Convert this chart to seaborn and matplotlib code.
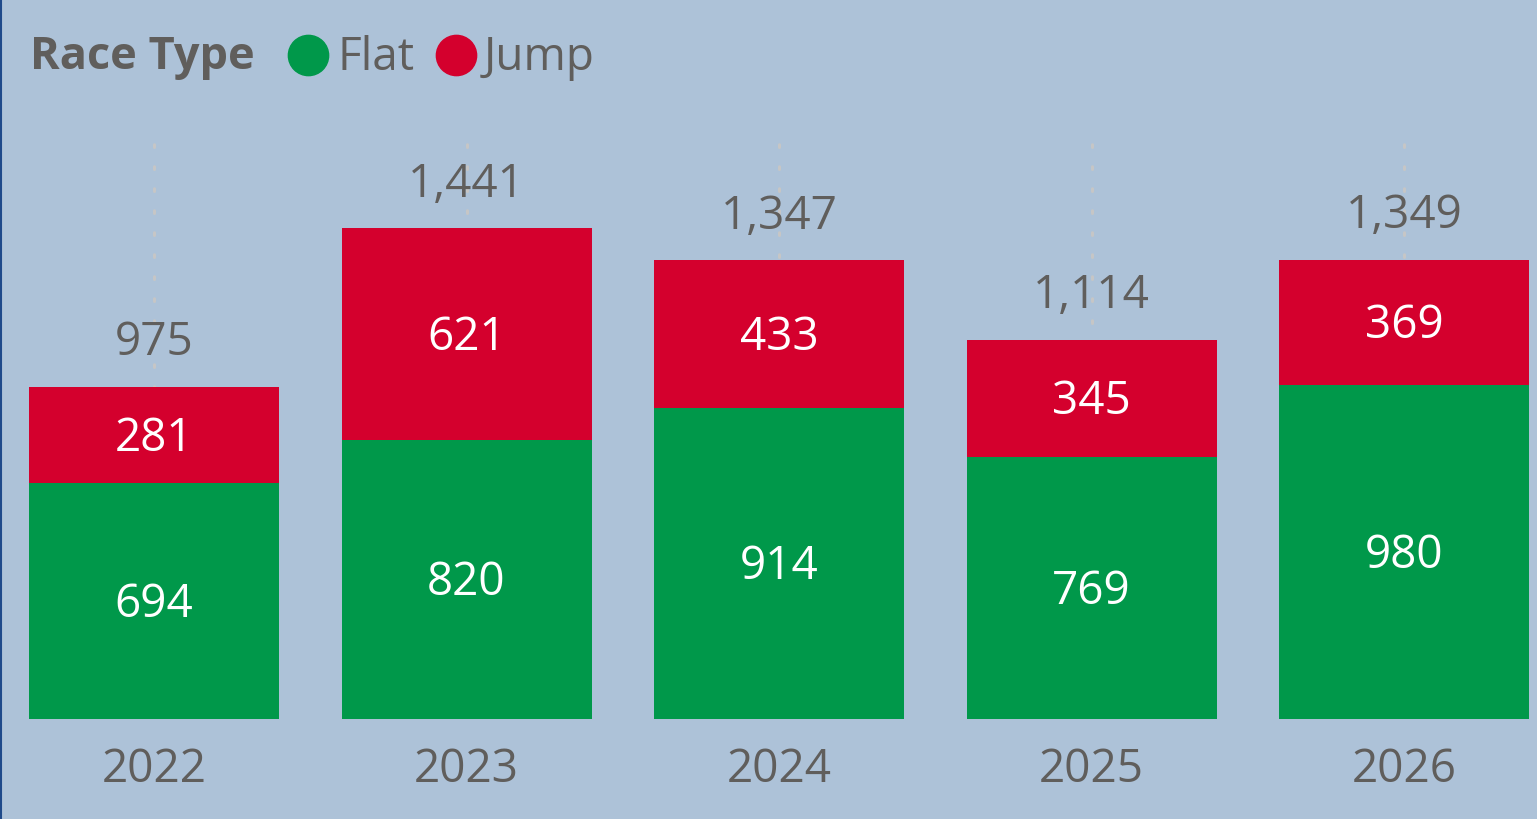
import matplotlib
matplotlib.use("Agg")
import matplotlib.pyplot as plt
from matplotlib.lines import Line2D
import seaborn as sns
import pandas as pd

years = ["2022", "2023", "2024", "2025", "2026"]
flat = [694, 820, 914, 769, 980]
jump = [281, 621, 433, 345, 369]
totals = [f + j for f, j in zip(flat, jump)]

BG = "#adc2d8"
GREEN = "#00984a"
RED = "#d4002d"
GRAY = "#605e5c"
FS = 33

sns.set_theme(style="white")
plt.rcParams['font.family'] = ['Open Sans', 'DejaVu Sans']

df = pd.DataFrame({"Year": years, "Flat": flat, "Jump": jump, "Total": totals})

W, H = 1537, 819
fig = plt.figure(figsize=(W / 100, H / 100), dpi=100)
fig.patch.set_facecolor(BG)
ax = fig.add_axes([0, 1 - 719 / H, 1, (719 - 140) / H])
ax.set_facecolor(BG)

sns.barplot(data=df, x="Year", y="Total", color=RED, width=0.8, saturation=1,
            linewidth=0, edgecolor="none", ax=ax, zorder=3)
sns.barplot(data=df, x="Year", y="Flat", color=GREEN, width=0.8, saturation=1,
            linewidth=0, edgecolor="none", ax=ax, zorder=3)

ax.set_xlim(-0.4928, 4.4256)
ax.set_ylim(0, 1700)
for s in ax.spines.values():
    s.set_visible(False)
ax.set_xlabel("")
ax.set_ylabel("")
ax.set_yticks([])
ax.tick_params(axis="x", length=0, pad=20, labelsize=FS, labelcolor=GRAY)
ax.xaxis.grid(True, color="#c6c6c6", linestyle=(0, (0.9, 6.3)), linewidth=2.2,
              dash_capstyle="round", zorder=0)
ax.yaxis.grid(False)

def lab(x, y, s, color):
    ax.annotate(s, (x, y), xytext=(0, -4), textcoords="offset pixels",
                ha="center", va="center", color=color, fontsize=FS, zorder=5)

for i in range(len(years)):
    lab(i, flat[i] / 2, f"{flat[i]:,}", "white")
    lab(i, flat[i] + jump[i] / 2, f"{jump[i]:,}", "white")
    lab(i, totals[i] + 140, f"{totals[i]:,}", GRAY)

# Legend
ly = 1 - 58 / H
fig.text(30 / W, ly, "Race Type", fontsize=32.5, fontweight="bold", color=GRAY, ha="left", va="center")
for cx, tx, name, c in [(308, 337, "Flat", GREEN), (456, 484, "Jump", RED)]:
    fig.add_artist(Line2D([cx / W], [1 - 55 / H], marker="o", linestyle="", markersize=29,
                          markerfacecolor=c, markeredgecolor=c, transform=fig.transFigure))
    fig.text(tx / W, ly, name, fontsize=FS, color=GRAY, ha="left", va="center")

fig.add_artist(Line2D([0.0008, 0.0008], [0, 1], color="#1f4a8a", linewidth=1.5, transform=fig.transFigure))

fig.savefig("out.png", dpi=100, facecolor=BG)
